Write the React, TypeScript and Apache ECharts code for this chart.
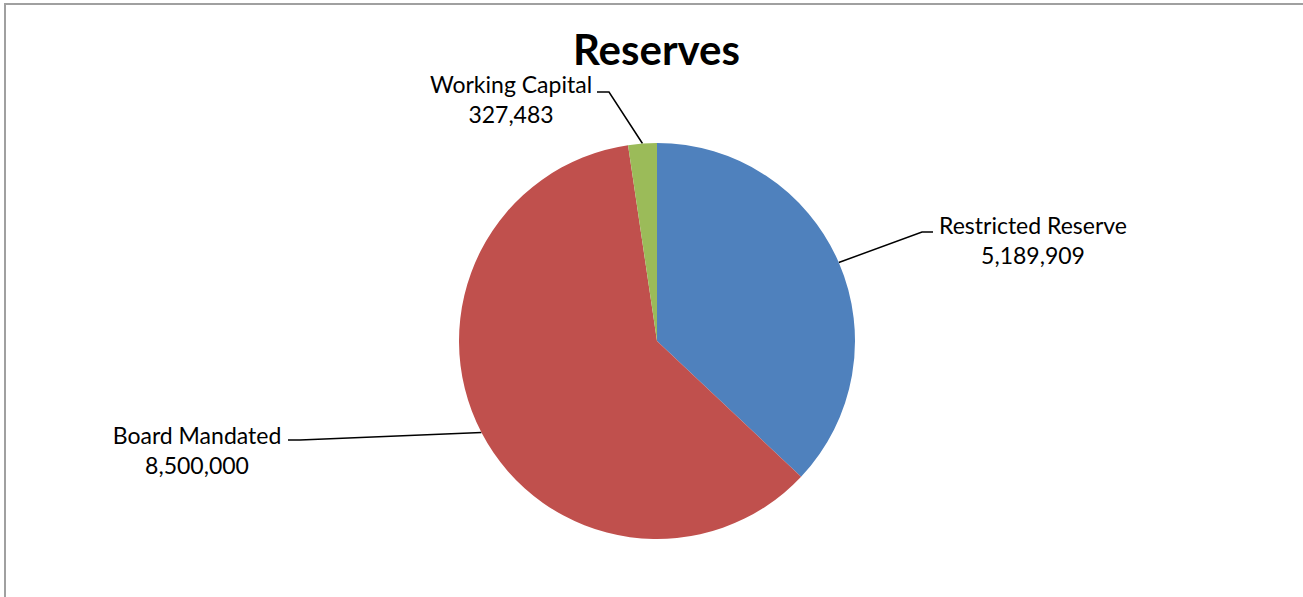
import React, { useEffect, useRef } from "react";
import * as echarts from "echarts";

const categories = ["Restricted Reserve", "Board Mandated", "Working Capital"];
const values = [5189909, 8500000, 327483];
const colors = ["#4F81BD", "#C0504D", "#9BBB59"];
const titleText = "Reserves";

// label layout: [centerX, centerY, elbowX, elbowY, endX]
const labelLayouts = [
  [1033, 240, 922, 232, 933],
  [197, 450, 300, 440, 288],
  [511, 99, 609, 92, 597],
];

const fmt = (v: number) => v.toLocaleString("en-US");

export default function App() {
  const ref = useRef<HTMLDivElement>(null);
  useEffect(() => {
    if (!ref.current) return;
    const chart = echarts.init(ref.current, null, { renderer: "svg" });
    const cx = 657;
    const cy = 341;
    const r = 198;
    chart.setOption({
      animation: false,
      backgroundColor: "#ffffff",
      title: {
        text: titleText,
        left: 568,
        top: 23,
        textStyle: {
          fontFamily: "Lato",
          fontWeight: "bold",
          fontSize: 42,
          color: "#000000",
        },
      },
      graphic: [
        {
          type: "rect",
          shape: { x: 5, y: 4, width: 1400, height: 700 },
          style: { fill: "none", stroke: "#A0A0A0", lineWidth: 2 },
          silent: true,
        },
      ],
      series: [
        {
          type: "pie",
          center: [cx, cy],
          radius: r,
          startAngle: 90,
          clockwise: true,
          data: categories.map((c, i) => ({
            name: c,
            value: values[i],
            itemStyle: { color: colors[i] },
          })),
          itemStyle: { borderWidth: 0 },
          label: {
            show: true,
            position: "outside",
            formatter: (p: any) => `${p.name}\n${fmt(p.value)}`,
            fontFamily: "Lato",
            fontSize: 23,
            lineHeight: 30,
            color: "#000000",
            align: "center",
          },
          labelLine: {
            show: true,
            length: 20,
            length2: 10,
            lineStyle: { color: "#000000", width: 1.5 },
          },
          labelLayout: (params: any) => {
            const i = params.dataIndex;
            const L = labelLayouts[i];
            let start = params.labelLinePoints && params.labelLinePoints[0];
            if (!start) {
              start = [cx, cy];
            }
            return {
              x: L[0],
              y: L[1],
              align: "center",
              verticalAlign: "middle",
              labelLinePoints: [start, [L[2], L[3]], [L[4], L[3]]],
            };
          },
        },
      ],
    });
    return () => chart.dispose();
  }, []);
  return (
    <div
      ref={ref}
      style={{ position: "fixed", left: 0, top: 0, width: 1303, height: 597 }}
    />
  );
}
